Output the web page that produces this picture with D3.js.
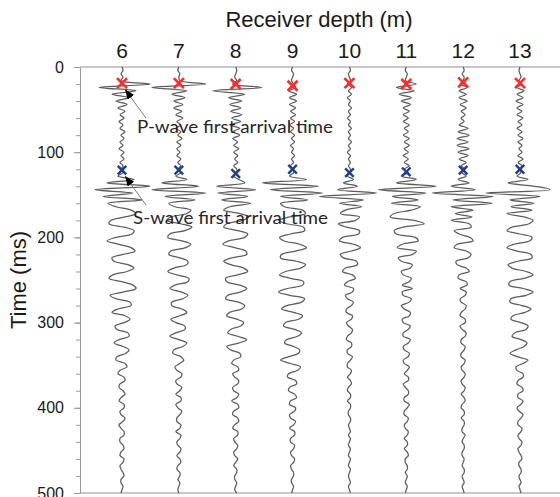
<!DOCTYPE html>
<html>
<head>
<meta charset="utf-8">
<script src="https://cdn.jsdelivr.net/npm/d3@7"></script>
<style>
  body { margin: 0; background: #fff; }
  svg { display: block; font-family: "Liberation Sans", Arial, sans-serif; }
</style>
</head>
<body>
<svg width="560" height="497"></svg>
<script>
// receiver depths (m) and picked arrivals (ms)
const depths = [6, 7, 8, 9, 10, 11, 12, 13]
const pArrival = [19, 19, 20, 22, 19, 20, 18, 19]
const sArrival = [121, 121, 125, 120, 124, 123, 121, 120]
const timeTicks = [0, 100, 200, 300, 400, 500]

// trace amplitudes, one sample every 4 ms from 0 to 500 ms
const sampleStep = 4
const trace6 = [0, 1, -1, 1, -1, 28, -23, 14, -10, 7, -6, 5, -4,
  3, -2, 2, -3, 1, -2, 3, -1, 2, -2, 1, -3, 2, -1, 2, -2, 1, -1,
  1, -4, 12, -15, 28, -27, 11, -19, 20,
  -14, -6, 9, 14, 3, -11, -13, 2, 12, 10, -6, -15, -4, 9, 13, 1, -10, -8, 6, 12, 5, -9, -13, 0, 11,
  14, 2, -12, -6, 8, 9, -4, -10, 3, 8, 2, -7, -5, 6, 7, -3, -8, 1, 7, 4, -5, -6, 3, 5, -2,
  -4, 2, 3, -2, -3, 1, 3, -1, -3, 2, 2, -2, -1, 3, 1, -3, -1, 2, 2, -2, -2, 1, 2, -1, -2, 2, 1, -2, -1, 1, 2, -1, -1, 1, 0, -1]
const trace7 = [0, -1, 1, 0, 1, 27, -27, 8, -7, 6, -5, 4, -5,
  3, -3, 4, -2, 2, -3, 2, -1, 3, -2, 2, -2, 1, -2, 2, -1, 2, -1,
  2, -3, 8, -17, 20, -27, 27, -14, 16,
  -10, -4, 12, 8, -8, -12, 2, 13, 6, -9, -11, 3, 12, 7, -8, -10, 1, 9, 8, -5, -11, -2, 10, 9, -4,
  -9, 2, 9, 4, -7, -7, 3, 8, 1, -8, -3, 6, 6, -3, -9, 0, 8, 4, -5, -6, 2, 5, 1, -4, -2,
  3, 2, -3, -2, 3, 1, -3, 2, 2, -3, -1, 3, 1, -2, -2, 2, 1, -3, 2, 1, -2, -1, 2, 1, -2, 1, 2, -1, -2, 1, 1, -1, 1, 0, -1, 0]
const trace8 = [0, 1, 0, -1, 1, -3, 26, -23, 9, -7, 6, -6, 5,
  -5, 6, -4, 5, -5, 4, -3, 4, -3, 2, -2, 3, -2, 2, -1, 2, -2, 1,
  1, -2, 3, 9, -19, 20, -18, 12, -14,
  15, -6, -12, 4, 13, 7, -9, -12, 2, 12, 9, -7, -13, -1, 10, 11, -4, -12, -5, 8, 12, 2, -10, -9, 4,
  11, 5, -8, -10, 3, 9, 6, -6, -9, 1, 8, 5, -5, -8, 2, 11, 3, -9, -5, 4, 5, -2, -4, 2, 3,
  -3, -1, 3, 2, -3, -2, 3, 1, -4, 2, 3, -2, -3, 2, 3, -1, -3, 2, 2, -2, -1, 2, 1, -2, -1, 2, 0, -2, 1, 1, -1, -1, 1, 0, -1, 1]
const trace9 = [0, -1, 1, 0, -1, 1, 3, -4, 4, -3, 4, -3, 3,
  -2, 3, -2, 2, -3, 1, -2, 2, -1, 2, -2, 1, -1, 2, -1, 1, -2, 1,
  1, -3, 14, -30, 26, -22, 30, -12, 15,
  -12, -8, 10, 13, -3, -14, -6, 11, 12, -2, -13, -9, 7, 14, 3, -11, -12, 4, 13, 8, -7, -13, -2, 11, 10,
  -5, -14, -3, 12, 9, -6, -11, 1, 10, 6, -7, -9, 2, 9, 5, -6, -8, 1, 7, 6, -4, -12, -2, 8, 5,
  -4, -5, 3, 4, -3, -4, 2, 4, -2, -3, 3, 2, -3, -2, 3, 1, -3, 2, 2, -2, -2, 2, 1, -2, -1, 2, 1, -2, -1, 1, 1, -1, -1, 1, 0, -1]
const trace10 = [0, 1, -1, 0, 1, -2, 2, -1, 2, -2, 1, -1, 2,
  -1, 1, -2, 1, -1, 2, -1, 1, -1, 2, -1, 1, -2, 1, -1, 1, -1, 1,
  1, -2, 4, -6, 8, -12, 27, -30, 14,
  -10, 12, -4, -9, 10, 6, -11, -3, 10, 9, -7, -10, 4, 11, 2, -9, -6, 7, 8, -4, -7, 3, 6, -2, -5,
  4, 3, -4, -2, 4, 2, -3, -3, 3, 2, -3, -1, 3, 2, -2, -3, 2, 2, -2, -2, 3, 1, -2, -2, 2,
  1, -2, 1, 2, -1, -2, 1, 1, -2, 1, 1, -1, -1, 1, 1, -1, 0, 1, -1, 1, 0, -1, 1, 0, -1, 1, 0, -1, 1, 0, -1, 0, 1, -1, 0, 1]
const trace11 = [0, -1, 1, 0, -1, 10, -10, 8, -7, 5, -5, 4, -3,
  3, -3, 2, -3, 3, -2, 2, -3, 3, -2, 3, -2, 2, -3, 2, -2, 3, -2,
  2, -5, 10, -10, 30, -28, 20, -14, 12,
  -15, 14, 5, -12, -16, 8, 18, -3, -12, -10, 9, 12, -4, -9, 10, 6, -8, -5, 6, 4, -5, -3, 5, 3, -4,
  6, -4, -3, 5, 3, -5, -2, 4, 3, -4, -3, 4, 2, -3, -3, 4, 2, -3, -2, 3, 2, -3, -2, 3, 1,
  -2, 2, 2, -3, -1, 2, 2, -2, -2, 3, 1, -2, -2, 2, 1, -2, -1, 2, 1, -2, 1, 1, -2, 1, 2, -1, -1, 1, 1, -1, 1, 0, -1, 1, 0, -1]
const trace12 = [0, 1, -1, 1, 0, -3, 4, -4, 3, -4, 4, -3, 3,
  -2, 2, -2, 1, -4, 5, -5, 6, -6, 5, -6, 6, -5, 5, -4, 3, -2, 2,
  -1, 3, -5, 6, -12, 12, -31, 30, -10,
  29, -12, 10, -8, 9, -12, 6, 8, -9, -4, 7, 10, -6, -9, 3, 8, 5, -7, -6, 3, 6, -4, -5, 3, 4,
  -3, 3, 2, -3, -2, 3, 2, -2, -3, 2, 2, -3, -1, 3, 2, -2, -2, 2, 1, -2, -2, 2, 1, -2, -1,
  2, 1, -2, -1, 2, 1, -2, 1, 2, -1, -2, 1, 1, -2, 1, 1, -1, -1, 2, 0, -1, 1, 1, -1, -1, 1, 0, -1, 1, 1, -1, 0, 1, -1, 0, 1]
const trace13 = [0, -1, 0, 1, -1, 2, -3, 4, -3, 3, -4, 3, -3,
  2, -3, 3, -2, 2, -3, 2, -2, 3, -2, 2, -1, 2, -2, 3, -2, 2, -1,
  1, -3, 8, -12, 15, 30, -34, 20, -10,
  14, -9, 12, -13, 4, 13, 9, -8, -13, 0, 12, 10, -6, -13, -3, 11, 12, -2, -12, -8, 6, 13, 4, -10, -11,
  3, 13, 6, -9, -10, 2, 11, 5, -7, -9, 1, 8, 6, -5, -8, 1, 7, 4, -4, -10, -3, 8, 3, -4, -3,
  3, 3, -2, -3, 2, 3, -2, -2, 3, 1, -3, -1, 3, 1, -2, -2, 2, 1, -2, -1, 2, 1, -2, -1, 1, 2, -1, -1, 1, 1, -1, 0, 1, -1, 0, 1]

const traces = [trace6, trace7, trace8, trace9, trace10, trace11, trace12, trace13]

const svg = d3.select("svg")

const x = d3.scaleLinear().domain([6, 13]).range([122, 520])
const y = d3.scaleLinear().domain([0, 500]).range([67, 493])
const amp = d3.scaleLinear().domain([-10, 10]).range([-10, 10])

// frame lines top and bottom
svg.selectAll(".frame")
  .data([0, 500])
  .enter().append("line")
  .attr("x1", 80).attr("x2", 575)
  .attr("y1", d => y(d)).attr("y2", d => y(d))
  .attr("stroke", "#b4b4b4")
  .attr("stroke-width", 1.5)

// minor ticks
let minor = svg.append("g")
  .attr("transform", "translate(80,0)")
  .call(d3.axisLeft(y).tickValues(d3.range(0, 501, 20)).tickSize(4).tickSizeOuter(0).tickFormat(""))
minor.select(".domain").attr("stroke", "#999")
minor.selectAll(".tick line").attr("stroke", "#999")

// major ticks + labels
let major = svg.append("g")
  .attr("transform", "translate(80,0)")
  .call(d3.axisLeft(y).tickValues(timeTicks).tickSize(6).tickSizeOuter(0).tickPadding(10))
major.select(".domain").remove()
major.selectAll(".tick line").attr("stroke", "#999")
major.selectAll(".tick text")
  .attr("fill", "#1a1a1a")
  .style("font-size", "16px")
  .style("font-family", "'Liberation Sans', Arial, sans-serif")

// depth labels above traces
svg.selectAll(".depth")
  .data(depths)
  .enter().append("text")
  .attr("x", d => x(d))
  .attr("y", 58)
  .attr("text-anchor", "middle")
  .attr("fill", "#1a1a1a")
  .style("font-size", "21px")
  .text(d => d)

svg.append("text")
  .attr("x", 319).attr("y", 27)
  .attr("text-anchor", "middle")
  .attr("fill", "#1a1a1a")
  .style("font-size", "22px")
  .text("Receiver depth (m)")

svg.append("text")
  .attr("transform", "translate(26,280) rotate(-90)")
  .attr("text-anchor", "middle")
  .attr("fill", "#1a1a1a")
  .style("font-size", "22px")
  .text("Time (ms)")

// the wiggle traces
let line = d3.line()
  .x(d => d.x)
  .y(d => y(d.t))
  .curve(d3.curveCatmullRom)

traces.forEach((tr, k) => {
  let pts = tr.map((a, i) => ({ t: i * sampleStep, x: x(depths[k]) + amp(a) }))
  svg.append("path")
    .attr("d", line(pts))
    .attr("fill", "none")
    .attr("stroke", "#5c5c5c")
    .attr("stroke-width", 1.25)
})

// arrival picks
function cross(cx, cy, r) {
  return `M${cx - r},${cy - r}L${cx + r},${cy + r}M${cx - r},${cy + r}L${cx + r},${cy - r}`
}

svg.selectAll(".pick-p")
  .data(depths)
  .enter().append("path")
  .attr("d", (d, i) => cross(x(d), y(pArrival[i]), 5))
  .attr("stroke", "#ff2a2a")
  .attr("stroke-width", 2.6)
  .attr("fill", "none")

svg.selectAll(".pick-s")
  .data(depths)
  .enter().append("path")
  .attr("d", (d, i) => cross(x(d), y(sArrival[i]), 4.3))
  .attr("stroke", "#1e3f8c")
  .attr("stroke-width", 2.4)
  .attr("fill", "none")

// annotations
svg.append("defs").append("marker")
  .attr("id", "head")
  .attr("markerUnits", "userSpaceOnUse")
  .attr("markerWidth", 11).attr("markerHeight", 9)
  .attr("refX", 10).attr("refY", 4)
  .attr("orient", "auto")
  .append("path")
  .attr("d", "M0,0L10,4L0,8Z")
  .attr("fill", "#000")

let notes = [
  { label: "P-wave first arrival time", t: pArrival[0], textT: 78, tailT: 60, dx: 15, width: 196 },
  { label: "S-wave first arrival time", t: sArrival[0], textT: 184, tailT: 162, dx: 11, width: 195 }
]

notes.forEach(n => {
  svg.append("line")
    .attr("x1", x(6) + 24).attr("y1", y(n.tailT))
    .attr("x2", x(6) + 3).attr("y2", y(n.t) + 6)
    .attr("stroke", "#7a7a7a")
    .attr("stroke-width", 1)
    .attr("marker-end", "url(#head)")
  svg.append("text")
    .attr("x", x(6) + n.dx)
    .attr("y", y(n.textT))
    .attr("textLength", n.width)
    .attr("lengthAdjust", "spacingAndGlyphs")
    .attr("fill", "#262626")
    .style("font-family", "Lato, 'Open Sans', sans-serif")
    .style("font-size", "17px")
    .text(n.label)
})
</script>
</body>
</html>
